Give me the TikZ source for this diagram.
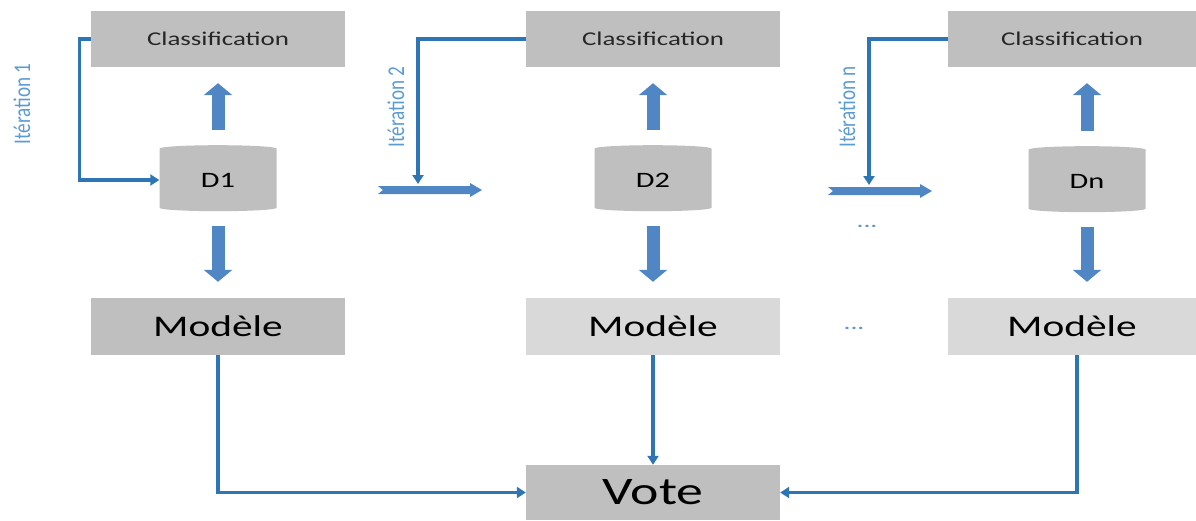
\documentclass[tikz,border=0pt]{standalone}
\usepackage{fontspec}
\setmainfont{Carlito}
\newfontfamily\widefont[FakeStretch=1.38]{Carlito}
\newfontfamily\narrowfont[FakeStretch=0.8]{Carlito}
\usetikzlibrary{arrows.meta,shapes.geometric}
\definecolor{boxgrey}{HTML}{BFBFBF}
\definecolor{lightgrey}{HTML}{D9D9D9}
\definecolor{linkblue}{HTML}{2E75B6}
\definecolor{fatblue}{HTML}{4F86C3}
\definecolor{iterblue}{HTML}{5B9BD5}
\tikzset {>=Triangle}
\newcommand*{\fs}[1]{\fontsize{#1}{#1}\selectfont}
\tikzset{
  box/.style={fill=boxgrey,inner sep=0pt,minimum width=254pt},
  clsbox/.style={box,minimum height=56pt,font=\widefont\fs{19.5},text=black!85},
  modbox/.style={box,minimum height=57pt,font=\widefont\fs{30}},
  db/.style={cylinder,shape border rotate=90,aspect=0.2,minimum height=66pt,
    minimum width=117pt,inner sep=0pt,fill=boxgrey,font=\widefont\fs{22}},
  link/.style={draw=linkblue,line width=3.3pt,-{Triangle[width=11pt,length=9pt]}},
  fat/.style={draw=fatblue,line width=13pt,-{Triangle[width=28pt,length=12pt]},
    shorten <=15pt,shorten >=16pt},
  iter/.style={text=iterblue,font=\narrowfont\fs{24},rotate=90},
  etc/.style={text=iterblue!80!gray,font=\widefont\fs{20}}
}

\begin{document}
\begin{tikzpicture}[x=1pt,y=-1pt]
\useasboundingbox (0,0) rectangle (1196,520);
% top row
\node[clsbox] (cls1) at (218,39) {Classification};
\node[clsbox] (cls2) at (653,39) {Classification};
\node[clsbox,minimum width=248pt] (cls3) at (1072,39) {Classification};
\node[db] (d1) at (218,180) {D1};
\node[db] (d2) at (653,180) {D2};
\node[db] (dn) at (1087,181) {Dn};
% models
\node[modbox] (mod1) at (218,326.5) {Mod\`ele};
\node[modbox,fill=lightgrey] (mod2) at (653,326.5) {Mod\`ele};
\node[modbox,fill=lightgrey,minimum width=248pt] (mod3) at (1072,326.5) {Mod\`ele};
\node[box,minimum height=55pt,font=\widefont\fs{39}] (vote) at (653,492.5) {Vote};
% labels
\node[iter] (it1) at (22,104) {Itération 1};
\node[iter] (it2) at (396,107) {Itération 2};
\node[iter] (itn) at (847,107) {Itération n};
\node[etc] (etc1) at (867,226) {...};
\node[etc] (etc2) at (854,328) {...};
% thick arrows
\foreach \d/\c/\m in {d1/cls1/mod1,d2/cls2/mod2,dn/cls3/mod3} {
  \draw[fat] (\d.north) -- (\d.north |- \c.south);
  \draw[fat] (\d.south) -- (\d.south |- \m.north);
}
% arrows between iterations
\coordinate (a2) at (378,190);
\coordinate (an) at (828,191);
\coordinate (t2) at (418,184);
\coordinate (tn) at (869,185);
\foreach \a in {a2,an}
  \fill[fatblue] (\a) ++(0,-4) -- ++(92,0) -- ++(0,-3) -- ++(12,7) -- ++(-12,7)
    -- ++(0,-3) -- ++(-92,0) -- ++(5,-4) -- cycle;
% feedback
\draw[link] (cls1.west) -- ++(-11,0) |- (d1.west);
\draw[link] (cls2.west) -| (t2);
\draw[link] (cls3.west) -| (tn);
% vote
\draw[link] (mod1.south) |- (vote.west);
\draw[link] (mod2.south) -- (vote.north);
\draw[link] ([xshift=5pt]mod3.south) |- (vote.east);
\end{tikzpicture}
\end{document}
